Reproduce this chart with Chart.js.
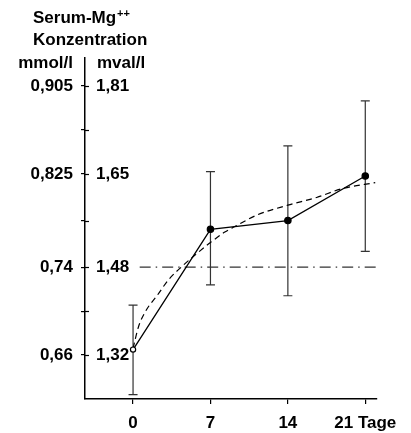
<!DOCTYPE html>
<html>
<head>
<meta charset="utf-8">
<script src="https://cdn.jsdelivr.net/npm/chart.js@4.4.1/dist/chart.umd.min.js"></script>
<style>
  html, body { margin: 0; padding: 0; background: #ffffff; }
  #wrap { width: 411px; height: 433px; }
</style>
</head>
<body>
<div id="wrap"><canvas id="c" width="411" height="433"></canvas></div>
<script>
// ---- data ----
const days = [0, 7, 14, 21];
const meanMval = [1.33, 1.549, 1.565, 1.646];
const upperMval = [1.411, 1.654, 1.701, 1.783];
const lowerMval = [1.248, 1.448, 1.428, 1.509];

const fitDays = [0, 0.5, 1.2, 2.2, 3.2, 4.4, 5.6, 7, 8.3, 9.2, 11.2, 14, 16.6, 18.9, 21.9];
const fitMval = [1.332, 1.372, 1.402, 1.429, 1.457, 1.481, 1.502, 1.525, 1.544, 1.554, 1.575, 1.593, 1.607, 1.623, 1.634];

const refDays = [0.6, 22.3];
const refMval = [1.48, 1.48];

const yTickValues = [1.32, 1.40, 1.48, 1.565, 1.65, 1.73, 1.81];
const mmolLabels = ['0,66', '', '0,74', '', '0,825', '', '0,905'];
const mvalLabels = ['1,32', '', '1,48', '', '1,65', '', '1,81'];

const xTickValues = [0, 7, 14, 21];
const xTickLabels = ['0', '7', '14', '21 Tage'];

const headerLine1 = 'Serum-Mg';
const headerSup = '++';
const headerLine2 = 'Konzentration';
const unitLeft = 'mmol/l';
const unitRight = 'mval/l';

// ---- chart ----
const FONT = "'Liberation Sans', Arial, Helvetica, sans-serif";
Chart.defaults.font.family = FONT;
Chart.defaults.color = '#000';

const toPts = (xs, ys) => xs.map((x, i) => ({ x: x, y: ys[i] }));

const extrasPlugin = {
  id: 'extras',
  beforeDatasetsDraw(chart) {
    const ctx = chart.ctx;
    const xs = chart.scales.x, ys = chart.scales.y;
    ctx.save();
    ctx.strokeStyle = '#333';
    ctx.lineWidth = 1.2;
    days.forEach((d, i) => {
      const px = xs.getPixelForValue(d);
      const pt = ys.getPixelForValue(upperMval[i]);
      const pb = ys.getPixelForValue(lowerMval[i]);
      ctx.beginPath();
      ctx.moveTo(px, pt); ctx.lineTo(px, pb);
      ctx.moveTo(px - 4.5, pt); ctx.lineTo(px + 4.5, pt);
      ctx.moveTo(px - 4.5, pb); ctx.lineTo(px + 4.5, pb);
      ctx.stroke();
    });
    ctx.restore();
  },
  afterDraw(chart) {
    const ctx = chart.ctx;
    const ys = chart.scales.y;
    const left = chart.chartArea.left;
    ctx.save();
    // inward halves of the y tick marks
    ctx.strokeStyle = '#000';
    ctx.lineWidth = 1.2;
    ys.ticks.forEach(t => {
      const py = Math.round(ys.getPixelForValue(t.value)) + 0.5;
      ctx.beginPath();
      ctx.moveTo(left, py); ctx.lineTo(left + 4, py);
      ctx.stroke();
    });
    // header texts
    ctx.fillStyle = '#000';
    ctx.textBaseline = 'alphabetic';
    ctx.font = 'bold 17px ' + FONT;
    ctx.textAlign = 'left';
    ctx.fillText(headerLine1, left - 52, 23);
    const w1 = ctx.measureText(headerLine1).width;
    ctx.font = 'bold 11px ' + FONT;
    ctx.fillText(headerSup, left - 52 + w1 + 1, 17);
    ctx.font = 'bold 17px ' + FONT;
    ctx.fillText(headerLine2, left - 52, 45);
    ctx.textAlign = 'right';
    ctx.fillText(unitLeft, left - 12, 68);
    ctx.textAlign = 'left';
    ctx.fillText(unitRight, left + 12, 68);
    ctx.restore();
  }
};

const tickFont = { size: 17, weight: 'bold', family: FONT };

new Chart(document.getElementById('c'), {
  type: 'line',
  data: {
    datasets: [
      {
        label: 'Mittelwerte',
        data: toPts(days, meanMval),
        borderColor: '#000',
        borderWidth: 1.3,
        pointRadius: [2.6, 3.2, 3.2, 3.2],
        pointBackgroundColor: ['#fff', '#000', '#000', '#000'],
        pointBorderColor: '#000',
        pointBorderWidth: 1.2,
        tension: 0,
        order: 0
      },
      {
        label: 'Anpassung',
        data: toPts(fitDays, fitMval),
        borderColor: '#000',
        borderWidth: 1.2,
        borderDash: [6, 4],
        pointRadius: 0,
        cubicInterpolationMode: 'monotone',
        order: 1
      },
      {
        label: 'Referenz',
        data: toPts(refDays, refMval),
        borderColor: '#333',
        borderWidth: 1.3,
        borderDash: [11, 5, 1.5, 5],
        pointRadius: 0,
        clip: false,
        order: 2
      }
    ]
  },
  options: {
    responsive: false,
    animation: false,
    devicePixelRatio: 1,
    layout: { padding: { top: 58, right: 34, bottom: 0, left: 0 } },
    plugins: {
      legend: { display: false },
      tooltip: { enabled: false },
      title: { display: false }
    },
    scales: {
      x: {
        type: 'linear',
        position: 'bottom',
        min: -4.345,
        max: 22.06,
        afterBuildTicks: s => { s.ticks = xTickValues.map(v => ({ value: v })); },
        afterFit: s => { s.height = 34; },
        ticks: {
          font: tickFont,
          color: '#000',
          padding: 9,
          maxRotation: 0,
          autoSkip: false,
          callback: (v, i) => xTickLabels[i]
        },
        grid: { drawOnChartArea: false, drawTicks: true, tickLength: 5, color: '#000', lineWidth: 1.2 },
        border: { display: true, color: '#000', width: 1.5 }
      },
      y: {
        type: 'linear',
        position: 'left',
        weight: 1,
        min: 1.24,
        max: 1.861,
        afterBuildTicks: s => { s.ticks = yTickValues.map(v => ({ value: v })); },
        afterFit: s => { s.width = 85; },
        ticks: {
          font: tickFont,
          color: '#000',
          padding: 8,
          autoSkip: false,
          callback: (v, i) => mmolLabels[i]
        },
        grid: { drawOnChartArea: false, drawTicks: true, tickLength: 4, color: '#000', lineWidth: 1.2 },
        border: { display: true, color: '#000', width: 1.5 }
      },
      y2: {
        type: 'linear',
        position: 'left',
        weight: 0,
        min: 1.24,
        max: 1.861,
        afterBuildTicks: s => { s.ticks = yTickValues.map(v => ({ value: v })); },
        afterFit: s => { s.width = 0; },
        ticks: {
          font: tickFont,
          color: '#000',
          mirror: true,
          padding: 11,
          autoSkip: false,
          callback: (v, i) => mvalLabels[i]
        },
        grid: { display: false },
        border: { display: false }
      }
    }
  },
  plugins: [extrasPlugin]
});
</script>
</body>
</html>
